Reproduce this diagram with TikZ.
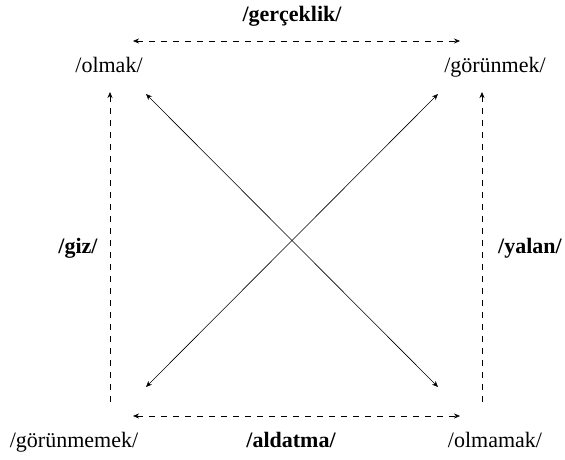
\documentclass[tikz,border=0pt]{standalone}
\usepackage{fontspec}
\setmainfont{Liberation Serif}
\usetikzlibrary{arrows.meta}
\begin{document}
\begin{tikzpicture}[x=1pt,y=-1pt,
  lbl/.style={inner sep=0pt,anchor=base,font=\fontsize{22}{26}\selectfont},
  blbl/.style={lbl,font=\fontsize{22}{26}\selectfont\bfseries},
  conn/.style={line width=0.6pt,-{Stealth[length=6pt,width=5pt]}},
  dconn/.style={conn,{Stealth[length=6pt,width=5pt]}-{Stealth[length=6pt,width=5pt]}},
  dsh/.style={dash pattern=on 6pt off 6pt}]
\useasboundingbox (0,0) rectangle (565,460);
% labels
\node[blbl] (ger) at (292,22) {/gerçeklik/};
\node[lbl] (olmak) at (109,73) {/olmak/};
\node[lbl] (gor) at (495,73) {/görünmek/};
\node[blbl] (giz) at (78,253) {/giz/};
\node[blbl] (yalan) at (530,253) {/yalan/};
\node[lbl] (gorme) at (74,447) {/görünmemek/};
\node[blbl] (ald) at (291,447) {/aldatma/};
\node[lbl] (olmama) at (495,447) {/olmamak/};
% connector ends
\coordinate (tl) at (133,41);
\coordinate (tr) at (460,41);
\coordinate (bl) at (133,416);
\coordinate (br) at (460,416);
\coordinate (vl1) at (110,92);
\coordinate (vl2) at (110,402);
\coordinate (vr1) at (482,92);
\coordinate (vr2) at (482,402);
\coordinate (d1) at (146,94);
\coordinate (d2) at (438,387);
\coordinate (d3) at (438,94);
\coordinate (d4) at (146,387);
% connectors
\draw[dconn,dsh] (tl) -- (tr);
\draw[dconn,dsh] (bl) -- (br);
\draw[conn,dsh] (vl2) -- (vl1);
\draw[conn,dsh] (vr2) -- (vr1);
\draw[dconn] (d1) -- (d2);
\draw[dconn] (d3) -- (d4);
\end{tikzpicture}
\end{document}
